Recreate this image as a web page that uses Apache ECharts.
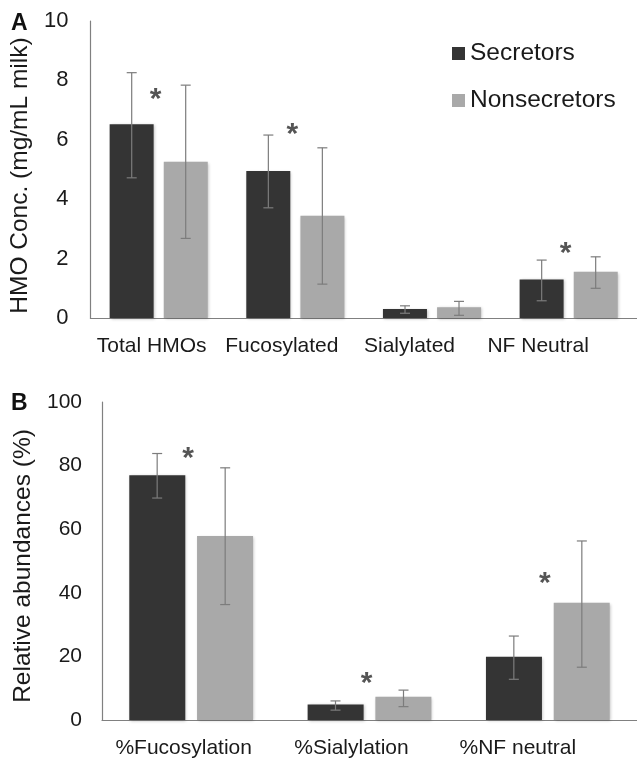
<!DOCTYPE html>
<html>
<head>
<meta charset="utf-8">
<script src="https://cdn.jsdelivr.net/npm/echarts@6/dist/echarts.min.js"></script>
<style>
html,body{margin:0;padding:0;background:#fff;}
#chart{width:637px;height:761px;}
</style>
</head>
<body>
<div id="chart"></div>
<script>
// Panel A data
const catsA = ['Total HMOs', 'Fucosylated', 'Sialylated', 'NF Neutral'];
const secA = [6.52, 4.95, 0.30, 1.30];
const secA_lo = [4.72, 3.71, 0.16, 0.58];
const secA_hi = [8.26, 6.16, 0.41, 1.95];
const nonA = [5.26, 3.44, 0.36, 1.56];
const nonA_lo = [2.68, 1.14, 0.09, 1.00];
const nonA_hi = [7.84, 5.73, 0.56, 2.06];
const starsA = [[0, 7.6], [1, 6.4], [3, 2.4]];
const ticksA = [0, 2, 4, 6, 8, 10];

// Panel B data
const catsB = ['%Fucosylation', '%Sialylation', '%NF neutral'];
const secB = [77.0, 4.9, 19.9];
const secB_lo = [69.8, 3.1, 12.8];
const secB_hi = [83.8, 6.0, 26.4];
const nonB = [57.9, 7.3, 36.9];
const nonB_lo = [36.3, 4.2, 16.6];
const nonB_hi = [79.3, 9.4, 56.3];
const starsB = [[0, 84.4], [1, 13.6], [2, 45.0]];
const ticksB = [0, 20, 40, 60, 80, 100];

const seriesNames = ['Secretors', 'Nonsecretors'];

const FONT = 'Liberation Sans, Arial, sans-serif';
const DARK = '#343434';
const LIGHT = '#a9a9a9';
const ERR = '#7c7c7c';

const chart = echarts.init(document.getElementById('chart'), null, {renderer: 'canvas'});

function errSeries(gridIdx, lo, hi, side, barW, gapPx) {
  const data = lo.map((v, i) => [i, v, hi[i]]);
  return {
    type: 'custom',
    xAxisIndex: gridIdx, yAxisIndex: gridIdx,
    silent: true, z: 10,
    renderItem: function (params, api) {
      const i = api.value(0);
      const pLo = api.coord([i, api.value(1)]);
      const pHi = api.coord([i, api.value(2)]);
      const x = pLo[0] + side * (barW + gapPx) / 2;
      const cap = 5;
      const style = {stroke: ERR, lineWidth: 1.2};
      return {
        type: 'group',
        children: [
          {type: 'line', shape: {x1: x, y1: pLo[1], x2: x, y2: pHi[1]}, style: style},
          {type: 'line', shape: {x1: x - cap, y1: pLo[1], x2: x + cap, y2: pLo[1]}, style: style},
          {type: 'line', shape: {x1: x - cap, y1: pHi[1], x2: x + cap, y2: pHi[1]}, style: style}
        ]
      };
    },
    data: data
  };
}

function labelData(cats, pads) {
  return cats.map((c, i) => ({value: c, textStyle: {padding: [0, pads[i], 0, 0]}}));
}

const axisLineStyle = {lineStyle: {color: '#808080', width: 1.2}};
const axisLabelStyle = {color: '#1a1a1a', fontFamily: FONT, fontSize: 21};
const barShadow = {shadowColor: 'rgba(0,0,0,0.25)', shadowBlur: 3, shadowOffsetX: 1, shadowOffsetY: 1};

const option = {
  animation: false,
  backgroundColor: '#ffffff',
  grid: [
    {left: 90, top: 21, height: 297, right: 0},
    {left: 102, top: 402, height: 318, right: 0}
  ],
  legend: {
    data: seriesNames,
    orient: 'vertical',
    left: 452, top: 41, padding: 0,
    itemWidth: 13, itemHeight: 13, itemGap: 22,
    icon: 'rect',
    textStyle: {fontFamily: FONT, fontSize: 24.5, color: '#1a1a1a'}
  },
  xAxis: [
    {type: 'category', gridIndex: 0, data: labelData(catsA, [14, 27, 45, 61]),
     axisLine: axisLineStyle, axisTick: {show: false},
     axisLabel: Object.assign({margin: 18, interval: 0}, axisLabelStyle)},
    {type: 'category', gridIndex: 1, data: labelData(catsB, [15, 36, 60]),
     axisLine: axisLineStyle, axisTick: {show: false},
     axisLabel: Object.assign({margin: 18, interval: 0}, axisLabelStyle)}
  ],
  yAxis: [
    {type: 'value', gridIndex: 0, min: ticksA[0], max: ticksA[ticksA.length - 1], interval: ticksA[1] - ticksA[0],
     axisLine: Object.assign({show: true}, axisLineStyle), axisTick: {show: false}, splitLine: {show: false},
     axisLabel: Object.assign({margin: 22}, axisLabelStyle, {fontSize: 22}),
     name: 'HMO Conc. (mg/mL milk)', nameLocation: 'middle', nameRotate: 90, nameGap: 50,
     nameTextStyle: {fontFamily: FONT, fontSize: 24.5, color: '#1a1a1a', padding: [0, 12, 0, 0]}},
    {type: 'value', gridIndex: 1, min: ticksB[0], max: ticksB[ticksB.length - 1], interval: ticksB[1] - ticksB[0],
     axisLine: Object.assign({show: true}, axisLineStyle), axisTick: {show: false}, splitLine: {show: false},
     axisLabel: Object.assign({margin: 20}, axisLabelStyle),
     name: 'Relative abundances (%)', nameLocation: 'middle', nameRotate: 90, nameGap: 62,
     nameTextStyle: {fontFamily: FONT, fontSize: 24.5, color: '#1a1a1a', padding: [0, 10, 0, 0]}}
  ],
  graphic: [
    {type: 'text', left: 11, top: 12, style: {text: 'A', fontFamily: FONT, fontWeight: 'bold', fontSize: 23, fill: '#111'}},
    {type: 'text', left: 11, top: 392, style: {text: 'B', fontFamily: FONT, fontWeight: 'bold', fontSize: 23, fill: '#111'}}
  ],
  series: [
    {name: 'Secretors', type: 'bar', xAxisIndex: 0, yAxisIndex: 0, data: secA, barWidth: 44, barGap: '23%',
     itemStyle: Object.assign({color: DARK}, barShadow)},
    {name: 'Nonsecretors', type: 'bar', xAxisIndex: 0, yAxisIndex: 0, data: nonA, barWidth: 44, barGap: '23%',
     itemStyle: Object.assign({color: LIGHT}, barShadow)},
    {name: 'Secretors', type: 'bar', xAxisIndex: 1, yAxisIndex: 1, data: secB, barWidth: 56, barGap: '21%',
     itemStyle: Object.assign({color: DARK}, barShadow)},
    {name: 'Nonsecretors', type: 'bar', xAxisIndex: 1, yAxisIndex: 1, data: nonB, barWidth: 56, barGap: '21%',
     itemStyle: Object.assign({color: LIGHT}, barShadow)},
    errSeries(0, secA_lo, secA_hi, -1, 44, 10),
    errSeries(0, nonA_lo, nonA_hi, 1, 44, 10),
    errSeries(1, secB_lo, secB_hi, -1, 56, 12),
    errSeries(1, nonB_lo, nonB_hi, 1, 56, 12),
    {type: 'scatter', xAxisIndex: 0, yAxisIndex: 0, data: starsA, symbolSize: 0, silent: true,
     label: {show: true, position: 'inside', formatter: '*', offset: [-3, 7], fontFamily: FONT, fontWeight: 'bold', fontSize: 30, color: '#2a2a2a'}},
    {type: 'scatter', xAxisIndex: 1, yAxisIndex: 1, data: starsB, symbolSize: 0, silent: true,
     label: {show: true, position: 'inside', formatter: '*', offset: [-3, 7], fontFamily: FONT, fontWeight: 'bold', fontSize: 30, color: '#2a2a2a'}}
  ]
};
chart.setOption(option);
</script>
</body>
</html>
